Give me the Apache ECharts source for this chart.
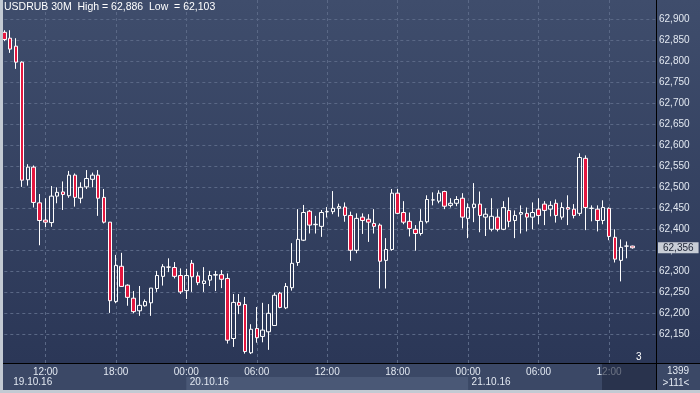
<!DOCTYPE html>
<html><head><meta charset="utf-8">
<script src="https://cdn.jsdelivr.net/npm/echarts@6/dist/echarts.min.js"></script>
<style>html,body{margin:0;padding:0;background:#c3cad3;}#c{width:700px;height:393px;}</style>
</head><body><div id="c"></div>
<script>
// ---- data (USDRUB, 30 minute bars) ----
const startTimeUTC = [2016, 9, 19, 8, 30];   // first bar: 19.10.16 08:30
const barMinutes = 30;
const slotCount = 112;                        // visible slots on the time axis
const opens  = [62869,62855,62836,62798,62518,62548,62463,62422,62416,62479,62489,62480,62529,62474,62501,62519,62529,62476,62417,62228,
                62312,62267,62236,62206,62218,62225,62259,62288,62310,62309,62290,62254,62319,62289,62271,62279,62291,62292,62283,62140,
                62226,62221,62106,62164,62145,62156,62171,62248,62213,62261,62321,62374,62443,62411,62407,62442,62442,62450,62453,62433,
                62350,62429,62424,62414,62410,62326,62352,62486,62440,62419,62400,62390,62418,62470,62467,62490,62457,62462,62474,62426,
                62452,62460,62429,62400,62429,62400,62445,62421,62436,62438,62429,62448,62460,62448,62462,62429,62452,62448,62438,62569,
                62450,62448,62421,62450,62381,62326,62360,62360];
const closes = [62852,62829,62798,62517,62548,62464,62421,62417,62479,62488,62483,62529,62476,62500,62521,62529,62474,62417,62230,62314,
                62264,62238,62204,62219,62228,62260,62290,62311,62310,62288,62251,62290,62287,62273,62277,62290,62292,62281,62136,62226,
                62219,62109,62162,62142,62160,62200,62243,62214,62264,62319,62376,62440,62410,62412,62440,62442,62450,62454,62433,62350,
                62426,62421,62417,62407,62324,62352,62486,62438,62417,62402,62390,62419,62471,62470,62486,62455,62462,62471,62429,62452,
                62460,62433,62436,62431,62400,62452,62419,62433,62440,62429,62440,62433,62445,62457,62433,62452,62448,62433,62571,62452,
                62450,62421,62452,62383,62329,62357,62360,62356];
const lows   = [62848,62820,62782,62501,62504,62452,62362,62405,62406,62462,62446,62475,62454,62462,62496,62500,62432,62414,62201,62224,
                62263,62218,62200,62194,62216,62194,62251,62266,62298,62283,62246,62234,62251,62267,62251,62265,62253,62260,62128,62120,
                62198,62104,62103,62130,62131,62113,62171,62212,62210,62254,62313,62372,62390,62390,62382,62428,62436,62430,62418,62325,
                62343,62389,62370,62390,62259,62259,62349,62436,62412,62383,62349,62385,62414,62457,62462,62448,62452,62455,62402,62379,
                62417,62393,62384,62395,62395,62398,62405,62379,62390,62395,62400,62412,62410,62431,62416,62423,62410,62426,62432,62398,
                62419,62395,62412,62374,62321,62276,62331,62354];
const highs  = [62874,62874,62855,62800,62555,62552,62484,62474,62503,62500,62514,62539,62533,62512,62541,62535,62541,62496,62417,62339,
                62344,62269,62253,62265,62233,62260,62301,62317,62331,62322,62307,62306,62327,62298,62310,62301,62301,62303,62295,62246,
                62246,62239,62174,62215,62225,62222,62249,62251,62272,62367,62448,62458,62446,62432,62446,62453,62491,62461,62464,62442,
                62438,62438,62436,62448,62414,62379,62496,62496,62467,62440,62410,62448,62481,62488,62493,62492,62474,62479,62486,62462,
                62510,62490,62450,62474,62448,62467,62476,62445,62457,62452,62464,62474,62467,62467,62471,62464,62481,62460,62581,62576,
                62457,62457,62469,62452,62400,62376,62371,62361];
const yTickValues = [62150,62200,62250,62300,62350,62400,62450,62500,62550,62600,62650,62700,62750,62800,62850,62900];
const yRange = [62081.7, 62945.95];
const titleText = 'USDRUB 30M  High = 62,886  Low  = 62,103';
const infoTexts = ['1399', '>111<'];
const markerText = '3';

// ---- build ----
const pad = n => (n < 10 ? '0' : '') + n;
const t0 = Date.UTC.apply(null, startTimeUTC);
const categories = [];
for (let i = 0; i < slotCount; i++) {
  const d = new Date(t0 + i * barMinutes * 60000);
  categories.push(pad(d.getUTCDate()) + '.' + pad(d.getUTCMonth() + 1) + '.' + String(d.getUTCFullYear()).slice(2) +
                  ' ' + pad(d.getUTCHours()) + ':' + pad(d.getUTCMinutes()));
}
const ohlc = opens.map((o, i) => [o, closes[i], lows[i], highs[i]]);
const lastPrice = closes[closes.length - 1];
const fmt = v => String(Math.round(v)).replace(/\B(?=(\d{3})+(?!\d))/g, ',');
const isSixHour = (idx, val) => /^(00|06|12|18):00$/.test(String(val).slice(9));
const isDayStart = (idx, val) => idx === 0 || String(val).slice(9) === '00:00';

const FONT = 'Liberation Sans, Arial, sans-serif';
const TXT = '#e2e8f1';
const GRID_LINE = { color: '#5a6886', width: 1, type: [3, 3] };
const priceMarkLine = {
  silent: true, symbol: 'none', animation: false,
  lineStyle: { color: 'rgba(0,0,0,0)', width: 0, type: 'solid' },
  label: { show: true, position: 'end', distance: 2, formatter: () => fmt(lastPrice),
    backgroundColor: '#c8cdd6', color: '#1b2234', fontSize: 10, fontFamily: FONT, padding: [1, 5, 0, 5] },
  data: [{ yAxis: lastPrice }]
};

const chart = echarts.init(document.getElementById('c'), null, { renderer: 'canvas', width: 700, height: 393 });
chart.setOption({
  animation: false,
  backgroundColor: { type: 'linear', x: 0, y: 0, x2: 0, y2: 1,
    colorStops: [{ offset: 0, color: '#3f4d6c' }, { offset: 0.92, color: '#2b3757' }, { offset: 1, color: '#2b3757' }] },
  textStyle: { fontFamily: FONT },
  title: { text: titleText, left: 4, top: 2, padding: 0,
    textStyle: { color: '#ffffff', fontSize: 10.5, fontWeight: 'normal', fontFamily: FONT } },
  grid: [
    { left: 4.3, right: 44, top: 0, bottom: 30 },
    { left: 4.3, right: 44, top: 377, height: 13 }
  ],
  xAxis: [
    { type: 'category', gridIndex: 0, data: categories, boundaryGap: false,
      axisLine: { show: true, lineStyle: { color: '#000000', width: 1 } },
      axisTick: { show: false },
      axisLabel: { interval: isSixHour, formatter: v => String(v).slice(9), color: TXT, fontSize: 10, margin: 4, fontFamily: FONT },
      splitLine: { show: true, interval: isSixHour, lineStyle: GRID_LINE } },
    { type: 'category', gridIndex: 1, data: categories, boundaryGap: false, position: 'top',
      axisLine: { show: false }, axisTick: { show: false },
      axisLabel: { inside: true, interval: isDayStart, margin: 0, color: TXT, fontSize: 10, fontFamily: FONT, align: 'left',
        formatter: (v, i) => (i === 0 ? '{a|' : '{b|') + String(v).slice(0, 8) + '}',
        rich: { a: { padding: [0, 0, 0, 9], color: TXT, fontSize: 10, fontFamily: FONT },
                b: { padding: [0, 0, 0, 3.5], color: TXT, fontSize: 10, fontFamily: FONT } } },
      splitArea: { show: true, interval: isDayStart, areaStyle: { color: ['rgba(0,0,0,0)', '#4a5876'] } },
      splitLine: { show: false } }
  ],
  yAxis: [
    { type: 'value', gridIndex: 0, position: 'right', min: yRange[0], max: yRange[1], scale: true,
      axisLine: { show: true, onZero: false, lineStyle: { color: '#000000', width: 1 } },
      axisTick: { show: false, customValues: yTickValues },
      axisLabel: { customValues: yTickValues, formatter: fmt, color: TXT, fontSize: 10, margin: 3, fontFamily: FONT },
      splitLine: { show: true, lineStyle: GRID_LINE } },
    { type: 'value', gridIndex: 1, show: false }
  ],
  series: [{
    type: 'candlestick', xAxisIndex: 0, yAxisIndex: 0, data: ohlc, barWidth: 4, clip: true,
    itemStyle: { color: 'rgba(0,0,0,0)', color0: '#e4173f', borderColor: '#ffffff', borderColor0: '#ffffff', borderWidth: 1 },
    markLine: priceMarkLine
  }],
  graphic: [
    { type: 'rect', z: -1, shape: { x: 0, y: 363, width: 700, height: 27 }, style: { fill: '#3b4866' } },
    { type: 'line', z: 5, shape: { x1: 3, y1: 363.5, x2: 700, y2: 363.5 }, style: { stroke: '#000000', lineWidth: 1 } },
    { type: 'line', z: 5, shape: { x1: 656.5, y1: 363, x2: 656.5, y2: 390 }, style: { stroke: '#000000', lineWidth: 1 } },
    { type: 'rect', z: 10, shape: { x: 602, y: 364, width: 54, height: 26 }, style: { fill: 'rgba(30,38,62,0.62)' } },
    { type: 'rect', z: 20, shape: { x: 0, y: 0, width: 3, height: 393 }, style: { fill: '#c3cad3' } },
    { type: 'rect', z: 20, shape: { x: 0, y: 390, width: 700, height: 3 }, style: { fill: '#c3cad3' } },
    { type: 'text', z: 20, style: { x: 636, y: 352, text: markerText, fill: '#ffffff', font: '10px ' + FONT } },
    { type: 'text', z: 20, style: { x: 678, y: 366, text: infoTexts[0], fill: TXT, font: '10px ' + FONT, textAlign: 'center' } },
    { type: 'text', z: 20, style: { x: 676, y: 378, text: infoTexts[1], fill: TXT, font: '10px ' + FONT, textAlign: 'center' } }
  ]
});
</script></body></html>
